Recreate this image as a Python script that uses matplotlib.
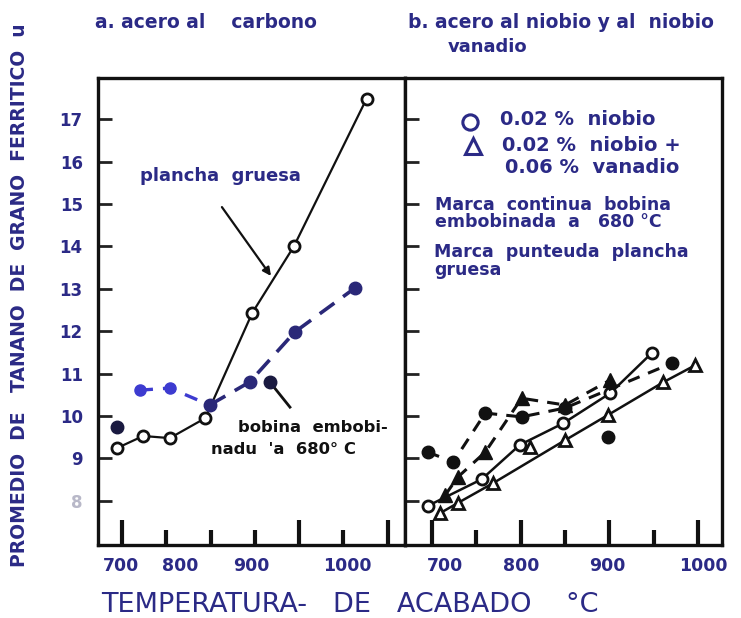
import matplotlib.pyplot as plt

NAVY = '#2b2a86'
BLUE = '#3d3bd0'

# ---- panel a: acero al carbono ----
a_open_x = [695, 724, 754, 794, 847, 894, 976]
a_open_y = [9.25, 9.53, 9.48, 9.95, 12.43, 14.0, 17.48]

a_fill_x = [720, 754, 799, 844, 895, 963]
a_fill_y = [10.61, 10.66, 10.26, 10.80, 11.98, 13.02]
a_fill_extra_x = [695, 867]
a_fill_extra_y = [9.74, 10.80]

# ---- panel b: acero al niobio / niobio-vanadio ----
b_circ_x = [695, 756, 799, 848, 901, 948]
b_circ_y = [7.88, 8.51, 9.32, 9.83, 10.54, 11.49]

b_tri_x = [709, 729, 769, 850, 898, 961, 997]
b_tri_y = [7.71, 7.95, 8.42, 9.43, 10.02, 10.80, 11.20]
b_tri_extra_x = [810]
b_tri_extra_y = [9.27]

b_fcirc_x = [695, 724, 760, 801, 850, 971]
b_fcirc_y = [9.15, 8.92, 10.07, 9.98, 10.19, 11.25]
b_fcirc_extra_x = [898]
b_fcirc_extra_y = [9.50]

b_ftri_x = [715, 729, 760, 801, 850, 901]
b_ftri_y = [8.14, 8.56, 9.15, 10.42, 10.26, 10.85]

y_ticks = [8, 9, 10, 11, 12, 13, 14, 15, 16, 17]
a_tick_labels = ['700', '800', '900', '1000']
a_label_pos = [699, 766, 846, 954]
b_label_pos = [715, 800, 898, 1006]

fig = plt.figure(figsize=(7.41, 6.18), dpi=100)
axa = fig.add_axes([98/741, 1-545/618, 307/741, 467/618])
axb = fig.add_axes([405/741, 1-545/618, 317/741, 467/618])

axa.set_xlim(673, 1019.4)
axb.set_xlim(669.5, 1027)
for ax in (axa, axb):
    ax.set_ylim(6.96, 17.97)
    for s in ax.spines.values():
        s.set_linewidth(2.4)
        s.set_color('#111')
    ax.set_yticks(y_ticks)
    ax.tick_params(axis='y', direction='in', length=10, width=2, pad=11,
                   labelsize=12, labelcolor=NAVY, color='#222')
    ax.tick_params(axis='x', which='major', direction='in', length=18, width=3,
                   labelbottom=False, color='#111')
    ax.tick_params(axis='x', which='minor', direction='in', length=11, width=3,
                   labelbottom=False, color='#111')

axa.set_xticks([700, 900, 1000])
axa.set_xticks([750, 800, 850, 950], minor=True)
axb.set_xticks([700, 800, 900, 1000])
axb.set_xticks([750, 850, 950], minor=True)
axa.set_yticklabels([str(v) for v in y_ticks], fontweight='bold')
axa.get_yticklabels()[0].set_color('#b8b8c8')
axb.tick_params(axis='y', labelleft=False)

for ax, pos in ((axa, a_label_pos), (axb, b_label_pos)):
    for p, lab in zip(pos, a_tick_labels):
        ax.text(p, -0.045, lab, transform=ax.get_xaxis_transform(),
                ha='center', va='center', fontsize=12.5, fontweight='bold', color=NAVY)

# panel a curves
axa.plot(a_open_x, a_open_y, '-', color='#111', lw=1.6, marker='o', ms=8,
         mfc='white', mec='#111', mew=2, zorder=3)
axa.plot(a_fill_x[:3], a_fill_y[:3], '--', color=BLUE, lw=2.4, dashes=(4, 3),
         marker='o', ms=8, mfc=BLUE, mec=BLUE, zorder=3)
axa.plot(a_fill_x[2:], a_fill_y[2:], '--', color='#2a2878', lw=2.6, dashes=(5, 3),
         marker='o', ms=9, mfc='#2a2878', mec='#2a2878', zorder=3)
axa.plot(a_fill_extra_x, a_fill_extra_y, 'o', ms=9, color='#1a1a40', zorder=3)

axa.text(720, 15.66, 'plancha  gruesa', fontsize=13, fontweight='bold',
         color=NAVY, va='center')
axa.annotate('', xy=(870, 13.25), xytext=(811, 14.98),
             arrowprops=dict(arrowstyle='-|>', color='#111', lw=1.6, mutation_scale=12))
axa.plot([867, 889.6], [10.80, 10.21], '-', color='#111', lw=2)
axa.text(831, 9.74, 'bobina  embobi-', fontsize=11.8, fontweight='bold',
         color='#111', va='center')
axa.text(801, 9.2, "nadu  'a  680° C", fontsize=11.8, fontweight='bold',
         color='#111', va='center')

# panel b curves
axb.plot(b_circ_x, b_circ_y, '-', color='#111', lw=1.8, marker='o', ms=8,
         mfc='white', mec='#111', mew=2, zorder=3)
axb.plot(b_tri_x, b_tri_y, '-', color='#111', lw=1.8, marker='^', ms=9,
         mfc='white', mec='#111', mew=2, zorder=3)
axb.plot(b_tri_extra_x, b_tri_extra_y, '^', ms=9, mfc='white', mec='#111', mew=2, zorder=3)
axb.plot(b_fcirc_x, b_fcirc_y, '--', color='#111', lw=2.2, dashes=(4, 3),
         marker='o', ms=9, mfc='#111', mec='#111', zorder=3)
axb.plot(b_fcirc_extra_x, b_fcirc_extra_y, 'o', ms=9, color='#111', zorder=3)
axb.plot(b_ftri_x, b_ftri_y, '--', color='#111', lw=2.2, dashes=(4, 3),
         marker='^', ms=10, mfc='#111', mec='#111', zorder=3)

# panel b legend text
axb.plot([743], [16.93], 'o', ms=11, mfc='white', mec=NAVY, mew=2.2)
axb.plot([746], [16.37], '^', ms=12, mfc='white', mec=NAVY, mew=2.2)
legend_lines = [
    (777, 16.98, '0.02 %  niobio'),
    (779, 16.39, '0.02 %  niobio +'),
    (782, 15.85, '0.06 %  vanadio'),
    (703, 14.98, 'Marca  continua  bobina'),
    (703, 14.58, 'embobinada  a   680 °C'),
    (702, 13.87, 'Marca  punteuda  plancha'),
    (702, 13.44, 'gruesa'),
]
for x, y, s in legend_lines:
    fs = 14 if '%' in s else 12.5
    axb.text(x, y, s, fontsize=fs, fontweight='bold', color=NAVY, va='center')

# titles and axis labels
fig.text(95/741, 1-22/618, 'a. acero al    carbono', fontsize=13.5, fontweight='bold',
         color=NAVY, va='center')
fig.text(408/741, 1-22/618, 'b. acero al niobio y al  niobio', fontsize=13.5,
         fontweight='bold', color=NAVY, va='center')
fig.text(448/741, 1-47/618, 'vanadio', fontsize=13, fontweight='bold',
         color=NAVY, va='center')
fig.text(20/741, 1-295/618, 'PROMEDIO  DE   TANANO  DE  GRANO  FERRITICO  u',
         rotation=90, fontsize=13.5, fontweight='bold', color=NAVY,
         ha='center', va='center')
fig.text(350/741, 1-605/618, 'TEMPERATURA-   DE   ACABADO    °C', fontsize=19.5,
         color=NAVY, ha='center', va='center')

fig.savefig('out.png', dpi=100)
